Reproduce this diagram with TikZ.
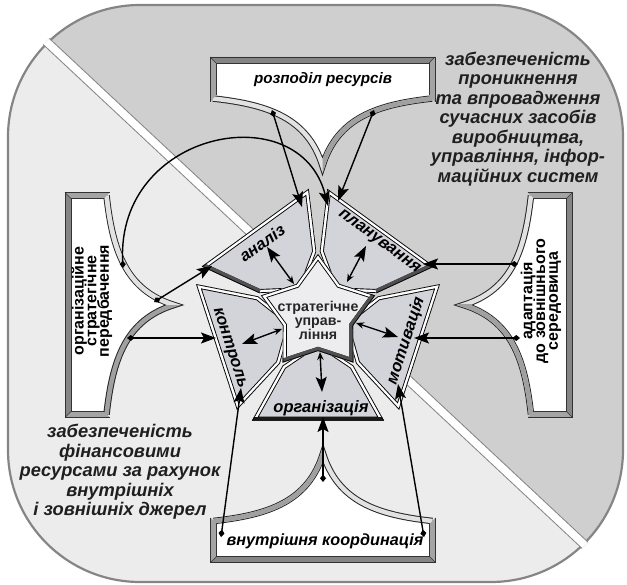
\documentclass[tikz,border=0pt]{standalone}
\usepackage{fontspec}
\setmainfont{Liberation Sans}
\usetikzlibrary{arrows.meta,calc}
\setlength{\lineskiplimit}{-40pt}
\definecolor{bgL}{HTML}{ECECEC}
\definecolor{bgD}{HTML}{CFCFCF}
\definecolor{rim}{HTML}{858585}
\definecolor{piecef}{HTML}{D3D3DA}
\definecolor{starf}{HTML}{EDEDEF}
\definecolor{armL}{HTML}{E2E2E2}
\definecolor{armD}{HTML}{A0A0A0}
\definecolor{frO}{HTML}{858585}
\definecolor{frS}{HTML}{A4A4A4}
\definecolor{edgeD}{HTML}{505050}
\tikzset{
  boxlbl/.style={font=\fontsize{15.2}{15.2}\selectfont\bfseries\itshape, inner sep=0pt},
  boxlblb/.style={font=\fontsize{16.2}{16.2}\selectfont\bfseries\itshape, inner sep=0pt},
  vlbl/.style={font=\fontsize{16}{12.7}\selectfont\bfseries, align=center, inner sep=0pt, rotate=90},
  corner/.style={font=\fontsize{18.3}{19.5}\selectfont\bfseries\itshape, align=center, inner sep=0pt, text=black!88},
  plbl/.style={font=\fontsize{16.5}{16.5}\selectfont\bfseries\itshape, inner sep=0pt},
  startxt/.style={font=\fontsize{14.2}{14}\selectfont\bfseries, align=center, inner sep=0pt, text=black!85},
  link/.style={line width=1.4pt, {Turned Square[length=7.5pt,width=6pt]}-{Stealth[length=15pt,width=11pt,inset=3pt]}},
  dlink/.style={line width=1.4pt, {Stealth[length=8pt,width=6.5pt]}-{Stealth[length=15pt,width=11pt,inset=3pt]}},
}
\newcommand{\mybox}[4]{%
\begin{scope}[shift={#1},rotate=#2]
\fill[white] (-112.5,-22.5) -- (112.5,-22.5) -- (112.5,19) -- (109.5,19) .. controls (55,25) and (15,38) .. (0,86.5) .. controls (-15,38) and (-55,25) .. (-109.5,19) -- (-112.5,19) -- cycle;
\draw[line width=6.5pt, black!85, miter limit=20] (-109.5,19) .. controls (-55,25) and (-15,38) .. (0,86.5) .. controls (15,38) and (55,25) .. (109.5,19);
\draw[line width=4.5pt, #3, miter limit=20] (-109.5,19) .. controls (-55,25) and (-15,38) .. (0,86.5) .. controls (15,38) and (55,25) .. (109.5,19);
\begin{scope}
\path[clip] (0,-40) rectangle (140,130);
\draw[line width=4.5pt, #4, miter limit=20] (-109.5,19) .. controls (-55,25) and (-15,38) .. (0,86.5) .. controls (15,38) and (55,25) .. (109.5,19);
\end{scope}
\fill[frO] (-112.5,-22.5) -- (112.5,-22.5) -- (106.5,-16.5) -- (-106.5,-16.5) -- cycle;
\fill[frS] (-112.5,-22.5) -- (-106.5,-16.5) -- (-106.5,16) -- (-112.5,22.5) -- cycle;
\fill[frS] (112.5,-22.5) -- (106.5,-16.5) -- (106.5,16) -- (112.5,22.5) -- cycle;
\draw[black!80, line width=0.7pt] (-112.5,22.5) -- (-112.5,-22.5) -- (112.5,-22.5) -- (112.5,22.5);
\draw[black!80, line width=0.5pt] (-106.5,16) -- (-106.5,-16.5) -- (106.5,-16.5) -- (106.5,16);
\draw[black!80, line width=0.5pt] (-112.5,-22.5) -- (-106.5,-16.5) (112.5,-22.5) -- (106.5,-16.5);
\end{scope}}
\newcommand{\mkpiece}[2]{%
\pgfmathsetmacro\angA{#1}\pgfmathsetmacro\angB{#1+72}\pgfmathsetmacro\angM{#1+36}%
\begin{scope}[shift={(\angM:3)}]
\fill[piecef] (\angA:60) -- (\angA+3.5:123) -- (\angB-3.5:123) -- (\angB:60) -- (\angM:25) -- cycle;
\begin{scope}
\path[clip] (\angA:60) -- (\angA+3.5:123) -- (\angB-3.5:123) -- (\angB:60) -- (\angM:25) -- cycle;
\draw[line width=8pt] (\angA:60) -- (\angA+3.5:123) -- (\angB-3.5:123) -- (\angB:60) -- (\angM:25) -- cycle;
\draw[line width=6.2pt, white] (\angA:60) -- (\angA+3.5:123) -- (\angB-3.5:123) -- (\angB:60) -- (\angM:25) -- cycle;
#2
\draw[line width=1.4pt] (\angA:60) -- (\angA+3.5:123) -- (\angB-3.5:123) -- (\angB:60) -- (\angM:25) -- cycle;
\end{scope}
\end{scope}}
\begin{document}
\begin{tikzpicture}[x=1pt,y=-1pt,line join=miter]
\useasboundingbox (0,0) rectangle (627,585);
% background
\fill[bgL, rounded corners=132pt] (8,5) rectangle (623,582);
\begin{scope}
\path[clip, rounded corners=132pt] (8,5) rectangle (623,582);
\fill[bgD] (0,-1.75) -- (640,596.7) -- (640,-10) -- (0,-10) -- cycle;
\end{scope}
\draw[rim, line width=2.2pt, rounded corners=132pt] (8,5) rectangle (623,582);
\begin{scope}
\path[clip, rounded corners=134pt] (6,3) rectangle (625,584);
\draw[line width=9.5pt, rim] (0,-1.75) -- (640,596.7);
\draw[line width=7.5pt, white] (0,-1.75) -- (640,596.7);
\end{scope}
% boxes
\mybox{(322.5,79.5)}{0}{armL}{armD}
\mybox{(87.5,305)}{90}{armD}{armL}
\mybox{(550,305)}{-90}{armL}{armD}
\mybox{(323,540)}{180}{armL}{armD}
% pentagon pieces and star
\begin{scope}[shift={(318,314)},y=1pt]
\mkpiece{90}{\draw[line width=8pt,edgeD] (\angB:60) -- (\angB-3.5:123);}
\mkpiece{162}{}
\mkpiece{234}{\draw[line width=8pt,black!90] (\angA+3.5:123) -- (\angB-3.5:123);}
\mkpiece{306}{}
\mkpiece{18}{\draw[line width=8pt,edgeD] (\angA:60) -- (\angA+3.5:123);}
\fill[starf] (90:60)--(126:37)--(162:60)--(198:37)--(234:60)--(270:37)--(306:60)--(342:37)--(18:60)--(54:37)--cycle;
\begin{scope}
\path[clip] (90:60)--(126:37)--(162:60)--(198:37)--(234:60)--(270:37)--(306:60)--(342:37)--(18:60)--(54:37)--cycle;
\draw[line width=8pt] (90:60)--(126:37)--(162:60)--(198:37)--(234:60)--(270:37)--(306:60)--(342:37)--(18:60)--(54:37)--cycle;
\draw[line width=6.2pt,white] (90:60)--(126:37)--(162:60)--(198:37)--(234:60)--(270:37)--(306:60)--(342:37)--(18:60)--(54:37)--cycle;
\draw[line width=8pt,edgeD] (234:60)--(270:37)--(306:60)--(342:37)--(18:60);
\draw[line width=1.4pt] (90:60)--(126:37)--(162:60)--(198:37)--(234:60)--(270:37)--(306:60)--(342:37)--(18:60)--(54:37)--cycle;
\end{scope}
\end{scope}
% texts
\node[boxlbl] (t1) at (323,80) {розподіл ресурсів};
\node[boxlblb] (t2) at (325,541) {внутрішня координація};
\node[vlbl] (t3) at (92,301) {організаційне\\стратегічне\\передбачення};
\node[vlbl] (t4) at (541,301) {адаптація\\до зовнішнього\\середовища};
\node[corner] (c1) at (518,119) {забезпеченість\\проникнення\\та впровадження\\сучасних засобів\\виробництва,\\управління, інфор-\\маційних систем};
\node[corner] (c2) at (120,472) {забезпеченість\\фінансовими\\ресурсами за рахунок\\внутрішніх\\і зовнішніх джерел};
\node[plbl, rotate=36] (l1) at (262,243) {аналіз};
\node[plbl, rotate=-36] (l2) at (379,242) {планування};
\node[plbl, rotate=-72] (l3) at (229,348) {контроль};
\node[plbl, rotate=72] (l4) at (406,341) {мотивація};
\node[plbl] (l5) at (321,408) {організація};
\node[startxt] (st) at (318,320) {стратегічне\\управ-\\ління};
% arrow end points
\coordinate (a1s) at (272,110); \coordinate (a1e) at (302,207);
\coordinate (a2s) at (374,110); \coordinate (a2e) at (338,201);
\coordinate (a3s) at (123,268); \coordinate (a3e) at (328,206);
\coordinate (a4s) at (154,302); \coordinate (a4e) at (212,266);
\coordinate (a5s) at (127,338); \coordinate (a5e) at (216,338);
\coordinate (a6s) at (518,264); \coordinate (a6e) at (423,264);
\coordinate (a7s) at (520,338); \coordinate (a7e) at (414,338);
\coordinate (a8s) at (323,482); \coordinate (a8e) at (323,417);
\coordinate (a9s) at (221,537); \coordinate (a9e) at (241,388);
\coordinate (a10s) at (424,537); \coordinate (a10e) at (398,384);
\coordinate (s1s) at (294,284); \coordinate (s1e) at (267,247);
\coordinate (s2s) at (347,282); \coordinate (s2e) at (366,246);
\coordinate (s3s) at (282,329); \coordinate (s3e) at (242,344);
\coordinate (s4s) at (356,323); \coordinate (s4e) at (398,337);
\coordinate (s5s) at (320,352); \coordinate (s5e) at (322,392);
% arrows
\draw[link] (a1s) -- (a1e);
\draw[link] (a2s) -- (a2e);
\draw[link] (a3s) .. controls (116,130) and (300,95) .. (a3e);
\draw[link] (a4s) -- (a4e);
\draw[link] (a5s) -- (a5e);
\draw[link] (a6s) -- (a6e);
\draw[link] (a7s) -- (a7e);
\draw[link] (a8s) -- (a8e);
\draw[link] (a9s) -- (a9e);
\draw[link] (a10s) -- (a10e);
\draw[dlink] (s1s) -- (s1e);
\draw[dlink] (s2s) -- (s2e);
\draw[dlink] (s3s) -- (s3e);
\draw[dlink] (s4s) -- (s4e);
\draw[dlink] (s5s) -- (s5e);
\end{tikzpicture}
\end{document}
